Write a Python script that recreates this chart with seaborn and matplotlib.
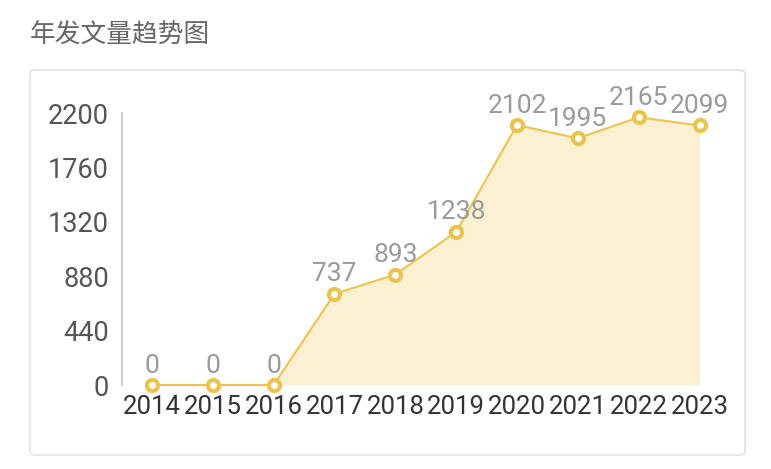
import matplotlib
matplotlib.use("Agg")

import seaborn as sns
import matplotlib.pyplot as plt
from matplotlib.patches import FancyBboxPatch


# data
years = ["2014", "2015", "2016", "2017", "2018", "2019", "2020", "2021", "2022", "2023"]
counts = [0, 0, 0, 737, 893, 1238, 2102, 1995, 2165, 2099]
y_ticks = [0, 440, 880, 1320, 1760, 2200]

line_color = "#EBC44E"
fill_color = "#FCF0D3"

sns.set_theme(style="white")
plt.rcParams["font.family"] = ["Roboto", "Noto Sans CJK SC", "DejaVu Sans"]

fig = plt.figure(figsize=(7.71, 4.69), dpi=100)

# card background (behind the axes)
card = FancyBboxPatch(
    (30 / 771, 1 - 455 / 469), 715 / 771, 385 / 469,
    boxstyle="round,pad=0,rounding_size=0.008",
    transform=fig.transFigure,
    facecolor="white", edgecolor="#E6E6E6", linewidth=1.5,
    zorder=-10,
)
fig.patches.append(card)

fig.text(30 / 771, 1 - 35 / 469, "年发文量趋势图",
         family=["Noto Sans CJK SC", "DejaVu Sans"],
         fontsize=18.5, color="#666666", va="center", ha="left")

ax = fig.add_axes([121.5 / 771, 1 - 385 / 469, 608.5 / 771, 272 / 469])
ax.set_zorder(5)
ax.patch.set_alpha(0)

x = list(range(len(years)))

ax.fill_between(x, counts, 0, color=fill_color, linewidth=0, zorder=1)

sns.lineplot(
    x=x, y=counts, ax=ax,
    color=line_color, linewidth=1.5,
    marker="o", markersize=8,
    markerfacecolor="white", markeredgecolor=line_color, markeredgewidth=3,
    zorder=3, clip_on=False,
)

for xi, v in zip(x, counts):
    ax.annotate(str(v), (xi, v), xytext=(0, 9), textcoords="offset points",
                ha="center", va="baseline", fontsize=19, color="#9A9A9A")

ax.set_xlim(-0.5, len(years) - 0.5)
ax.set_ylim(0, 2200)
ax.set_yticks(y_ticks)
ax.set_yticklabels([str(t) for t in y_ticks], fontsize=19.5, color="#555555")
ax.set_xticks(x)
ax.set_xticklabels(years, fontsize=18.5, color="#333333")
ax.tick_params(axis="both", length=0)
ax.tick_params(axis="y", pad=9)
ax.tick_params(axis="x", pad=7)

for side in ["top", "right", "bottom"]:
    ax.spines[side].set_visible(False)
ax.spines["left"].set_color("#CCCCCC")
ax.spines["left"].set_linewidth(1.5)

ax.grid(False)
ax.set_xlabel("")
ax.set_ylabel("")

plt.savefig("out.png", dpi=100)
plt.close()
